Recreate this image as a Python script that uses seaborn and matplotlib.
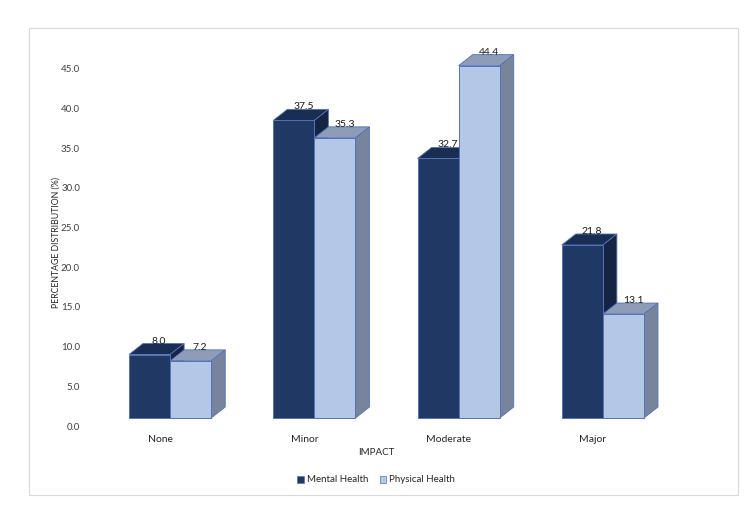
import matplotlib
matplotlib.use("Agg")
import matplotlib.pyplot as plt
import matplotlib.transforms as mtransforms
from matplotlib.patches import Polygon, Rectangle, Patch
import pandas as pd
import seaborn as sns

categories = ["None", "Minor", "Moderate", "Major"]
mental = [8.0, 37.5, 32.7, 21.8]
physical = [7.2, 35.3, 44.4, 13.1]
series = ["Mental Health", "Physical Health"]
yticks = [0, 5, 10, 15, 20, 25, 30, 35, 40, 45]

df = pd.DataFrame({
    "Impact": categories * 2,
    "Pct": mental + physical,
    "Type": [series[0]] * 4 + [series[1]] * 4,
})

front = ["#1f3864", "#b4c7e7"]
top = ["#1a2d52", "#8e9cb8"]
side = ["#162443", "#77849c"]
edge = "#5273b8"

sns.set_style("white")
plt.rcParams["font.family"] = ["Lato", "DejaVu Sans"]

fig = plt.figure(figsize=(7.5, 5.25), dpi=100)
ax = fig.add_axes([98 / 750, 107 / 525, 577 / 750, 373 / 525])

sns.barplot(data=df, x="Impact", y="Pct", hue="Type", palette=front,
            width=0.57, gap=0, saturation=1, edgecolor=edge, linewidth=0.7,
            legend=False, ax=ax)

ax.set_xlim(-0.5, 3.5)
ax.set_ylim(0, 47)
ax.set_yticks(yticks)
ax.set_yticklabels([f"{v:.1f}" for v in yticks], fontsize=7, color="#404040")
ax.set_xticklabels(categories, fontsize=7.5, color="#262626")
ax.tick_params(length=0)
ax.tick_params(axis="y", pad=13)
ax.tick_params(axis="x", pad=12)
sns.despine(ax=ax, left=True, bottom=True)
ax.set_xlabel("IMPACT", fontsize=7, color="#262626", labelpad=3)
ax.set_ylabel("")

# shift tick labels like the 3D layout
shift_x = mtransforms.ScaledTranslation(-10 / 100, 0, fig.dpi_scale_trans)
for lab in ax.get_xticklabels():
    lab.set_transform(lab.get_transform() + shift_x)
ax.xaxis.label.set_transform(ax.xaxis.label.get_transform() + shift_x)
shift_y = mtransforms.ScaledTranslation(0, -8 / 100, fig.dpi_scale_trans)
for lab in ax.get_yticklabels():
    lab.set_transform(lab.get_transform() + shift_y)

# 3D depth faces, drawn left to right so each front hides the previous side
dx, dy = 14, 11
bars = sorted(ax.patches, key=lambda p: p.get_x())
for k, p in enumerate(bars):
    s = k % 2
    x0, x1 = p.get_x(), p.get_x() + p.get_width()
    h = p.get_height()
    (ax0, ay0), (ax1, ay1) = ax.transData.transform([(x0, 0), (x1, h)])
    z = 2 + k * 3
    p.set_zorder(z + 1)
    p.set_clip_on(False)
    topface = Polygon([(ax0, ay1), (ax1, ay1), (ax1 + dx, ay1 + dy), (ax0 + dx, ay1 + dy)],
                      closed=True, facecolor=top[s], edgecolor=edge, linewidth=0.6)
    sideface = Polygon([(ax1, ay0), (ax1 + dx, ay0 + dy), (ax1 + dx, ay1 + dy), (ax1, ay1)],
                       closed=True, facecolor=side[s], edgecolor=edge, linewidth=0.6)
    for face in (topface, sideface):
        face.set_transform(mtransforms.IdentityTransform())
        ax.add_patch(face)
        face.set_transform(mtransforms.IdentityTransform())
        face.set_zorder(z)
        face.set_clip_on(False)
    ax.annotate(f"{h:.1f}", xy=((x0 + x1) / 2, h), xytext=(9.5 * 0.72, 13.5 * 0.72),
                textcoords="offset points", ha="center", va="center",
                fontsize=7.5, color="#1a1a1a", zorder=40, annotation_clip=False)

# y label
fig.text(56 / 750, 1 - 243 / 525, "PERCENTAGE DISTRIBUTION (%)", rotation=90,
         ha="center", va="center", fontsize=6.3, color="#262626")

handles = [Patch(facecolor=front[0], edgecolor=edge, linewidth=0.5),
           Patch(facecolor=front[1], edgecolor=edge, linewidth=0.5)]
fig.legend(handles, series, loc="center", bbox_to_anchor=(376 / 750, 1 - 480 / 525),
           ncol=2, frameon=False, fontsize=7, handlelength=0.7, handleheight=0.7,
           handletextpad=0.3, columnspacing=1.2, labelcolor="#262626")

fig.add_artist(Rectangle((29 / 750, 1 - 495 / 525), 709 / 750, 467 / 525,
                         transform=fig.transFigure, fill=False,
                         edgecolor="#d9d9d9", linewidth=0.8))

fig.savefig("out.png", dpi=100)
